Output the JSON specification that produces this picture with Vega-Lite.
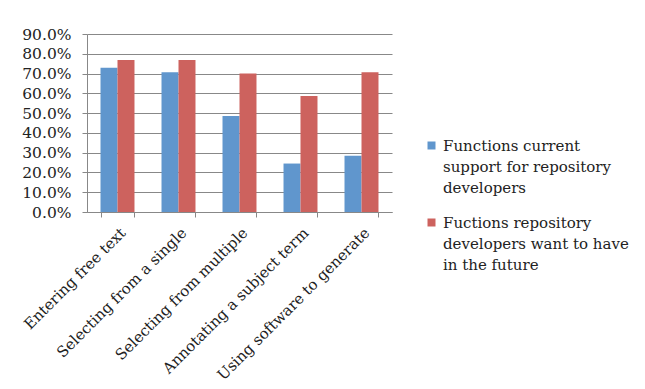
{
  "$schema": "https://vega.github.io/schema/vega-lite/v6.json",
  "autosize": "none",
  "width": 305,
  "height": 178,
  "padding": {"left": 87, "top": 34, "right": 253, "bottom": 177},
  "background": "white",
  "config": {
    "view": {"stroke": null},
    "font": "DejaVu Serif"
  },
  "data": {
    "values": [
      {"task": "Entering free text", "series": "Functions current support for repository developers", "value": 0.729},
      {"task": "Entering free text", "series": "Fuctions repository developers want to have in the future", "value": 0.769},
      {"task": "Selecting from a single", "series": "Functions current support for repository developers", "value": 0.707},
      {"task": "Selecting from a single", "series": "Fuctions repository developers want to have in the future", "value": 0.769},
      {"task": "Selecting from multiple", "series": "Functions current support for repository developers", "value": 0.485},
      {"task": "Selecting from multiple", "series": "Fuctions repository developers want to have in the future", "value": 0.700},
      {"task": "Annotating a subject term", "series": "Functions current support for repository developers", "value": 0.245},
      {"task": "Annotating a subject term", "series": "Fuctions repository developers want to have in the future", "value": 0.586},
      {"task": "Using software to generate", "series": "Functions current support for repository developers", "value": 0.284},
      {"task": "Using software to generate", "series": "Fuctions repository developers want to have in the future", "value": 0.707}
    ]
  },
  "mark": {"type": "bar"},
  "encoding": {
    "x": {
      "field": "task",
      "type": "nominal",
      "sort": null,
      "scale": {"paddingInner": 0.443, "paddingOuter": 0.2215},
      "axis": {
        "title": null,
        "tickBand": "extent",
        "domainColor": "#888888",
        "tickColor": "#888888",
        "tickSize": 5,
        "labelAngle": -45,
        "labelFont": "DejaVu Serif",
        "labelFontSize": 15,
        "labelColor": "#222222",
        "labelPadding": 8,
        "labelLimit": 300
      }
    },
    "xOffset": {"field": "series", "type": "nominal", "sort": null},
    "y": {
      "field": "value",
      "type": "quantitative",
      "scale": {"domain": [0, 0.9], "nice": false},
      "axis": {
        "title": null,
        "values": [0, 0.1, 0.2, 0.3, 0.4, 0.5, 0.6, 0.7, 0.8, 0.9],
        "format": ".1%",
        "grid": true,
        "gridColor": "#888888",
        "domainColor": "#888888",
        "tickColor": "#888888",
        "tickSize": 5,
        "labelPadding": 11,
        "labelFont": "DejaVu Serif",
        "labelFontSize": 15.5,
        "labelColor": "#222222"
      }
    },
    "color": {
      "field": "series",
      "type": "nominal",
      "sort": null,
      "scale": {"range": ["#6096CD", "#CD625E"]},
      "legend": {
        "title": null,
        "orient": "none",
        "legendX": 337,
        "legendY": 104,
        "symbolType": "square",
        "symbolSize": 64,
        "symbolStrokeWidth": 0,
        "symbolOffset": 0,
        "labelFont": "DejaVu Serif",
        "labelFontSize": 15,
        "labelColor": "#222222",
        "labelLimit": 300,
        "labelOffset": 4,
        "rowPadding": 19,
        "labelExpr": "datum.label == 'Functions current support for repository developers' ? ['Functions current', 'support for repository', 'developers'] : ['Fuctions repository', 'developers want to have', 'in the future']",
        "encode": {"labels": {"update": {"lineHeight": {"value": 21}}}}
      }
    }
  }
}
